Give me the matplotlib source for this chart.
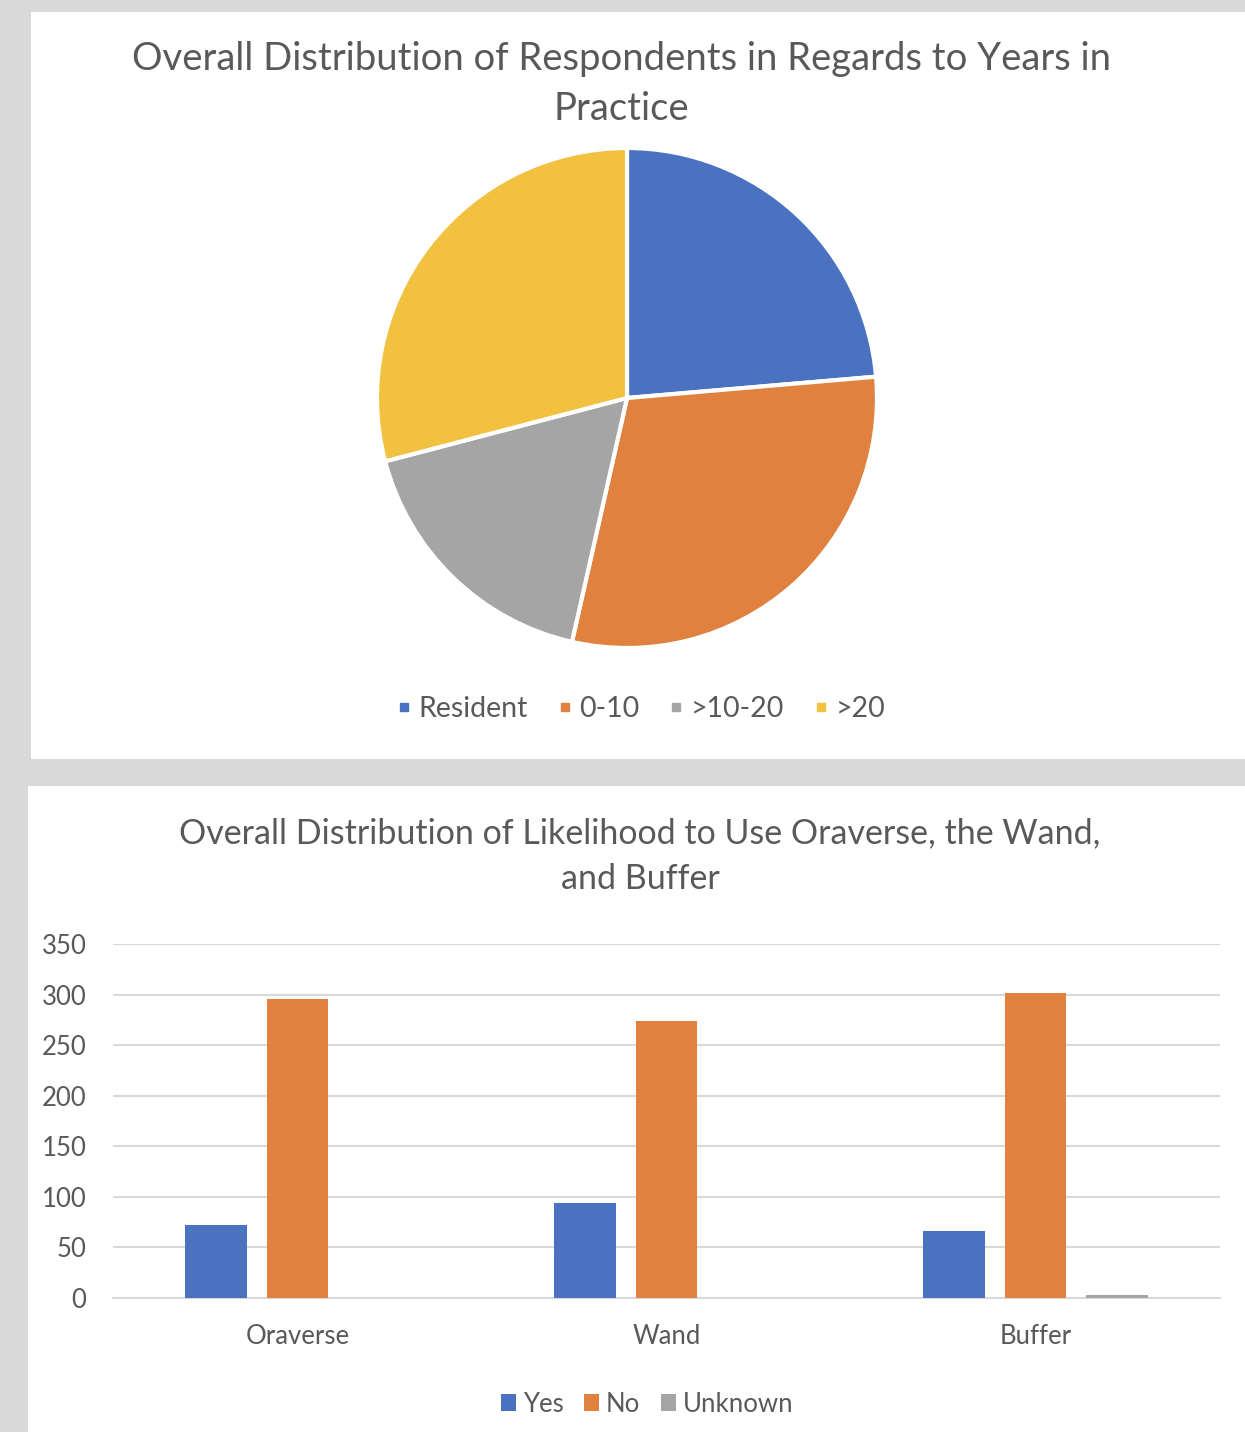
import matplotlib.pyplot as plt
from matplotlib.patches import Rectangle

plt.rcParams['font.family'] = ['Lato', 'DejaVu Sans']

# pie data
years_labels = ['Resident', '0-10', '>10-20', '>20']
years_counts = [87, 110, 64, 107]
years_colors = ['#4A72C0', '#E0813F', '#A5A5A5', '#F3C140']

# bar data
tools = ['Oraverse', 'Wand', 'Buffer']
answers = ['Yes', 'No', 'Unknown']
yes_counts = [72, 94, 66]
no_counts = [296, 274, 302]
unknown_counts = [0, 0, 3]
answer_colors = ['#4A72C0', '#E0813F', '#A5A5A5']

W, H = 1245, 1432
fig = plt.figure(figsize=(W / 100, H / 100), dpi=100)
fig.patch.set_facecolor('#D9D9D9')

def fx(px):
    return px / W

def fy(py):
    return 1 - py / H

# white panels behind the charts
fig.patches.append(Rectangle((fx(31), fy(759)), fx(1245 - 31), (759 - 12) / H,
                             transform=fig.transFigure, facecolor='white', edgecolor='none', zorder=-5))
fig.patches.append(Rectangle((fx(28), 0), fx(1245 - 28), (1432 - 786) / H,
                             transform=fig.transFigure, facecolor='white', edgecolor='none', zorder=-5))

text_color = '#595959'

# ---- pie ----
fig.text(fx(621), fy(84), 'Overall Distribution of Respondents in Regards to Years in\nPractice',
         ha='center', va='center', fontsize=27.5, color=text_color, linespacing=1.5)

ax1 = fig.add_axes([fx(377), fy(648), fx(500), 500 / H])
ax1.set_zorder(2)
ax1.patch.set_alpha(0)
ax1.pie(years_counts, colors=years_colors, startangle=90, counterclock=False,
        wedgeprops=dict(edgecolor='white', linewidth=3))
ax1.set_xlim(-1.0, 1.0)
ax1.set_ylim(-1.0, 1.0)
ax1.set_aspect('equal')

handles = [plt.Line2D([], [], marker='s', linestyle='', markersize=6, color=c) for c in years_colors]
fig.legend(handles, years_labels, loc='center', bbox_to_anchor=(fx(639), fy(709)), ncol=4,
           frameon=False, fontsize=20.5, labelcolor=text_color, handletextpad=0.1,
           columnspacing=0.9, handlelength=0.8)

# ---- bars ----
fig.text(fx(640), fy(856), 'Overall Distribution of Likelihood to Use Oraverse, the Wand,\nand Buffer',
         ha='center', va='center', fontsize=24.5, color=text_color, linespacing=1.55)

ax2 = fig.add_axes([fx(113), fy(1298), fx(1220 - 113), 354 / H])
ax2.set_zorder(2)
ax2.patch.set_alpha(0)
x = range(len(tools))
width = 0.168
step = 0.22
series = [yes_counts, no_counts, unknown_counts]
for i, (vals, col, name) in enumerate(zip(series, answer_colors, answers)):
    ax2.bar([xi + (i - 1) * step for xi in x], vals, width=width, color=col, label=name, zorder=3)

ax2.set_xlim(-0.5, 2.5)
ax2.set_ylim(0, 350)
ax2.set_yticks(range(0, 351, 50))
ax2.set_xticks(list(x))
ax2.set_xticklabels(tools)
ax2.grid(axis='y', color='#D9D9D9', linewidth=1.5, zorder=0)
for s in ['top', 'right', 'left']:
    ax2.spines[s].set_visible(False)
ax2.spines['bottom'].set_color('#D9D9D9')
ax2.spines['bottom'].set_linewidth(1.5)
ax2.tick_params(length=0, labelsize=18.5, colors=text_color)
ax2.tick_params(axis='y', pad=19)
ax2.tick_params(axis='x', pad=19)

fig.legend(loc='center', bbox_to_anchor=(fx(647), fy(1404)), ncol=3, frameon=False,
           fontsize=18.5, labelcolor=text_color, handletextpad=0.25, columnspacing=0.8,
           handlelength=0.6, handleheight=0.6)

fig.savefig('out.png', dpi=100, facecolor=fig.get_facecolor())
